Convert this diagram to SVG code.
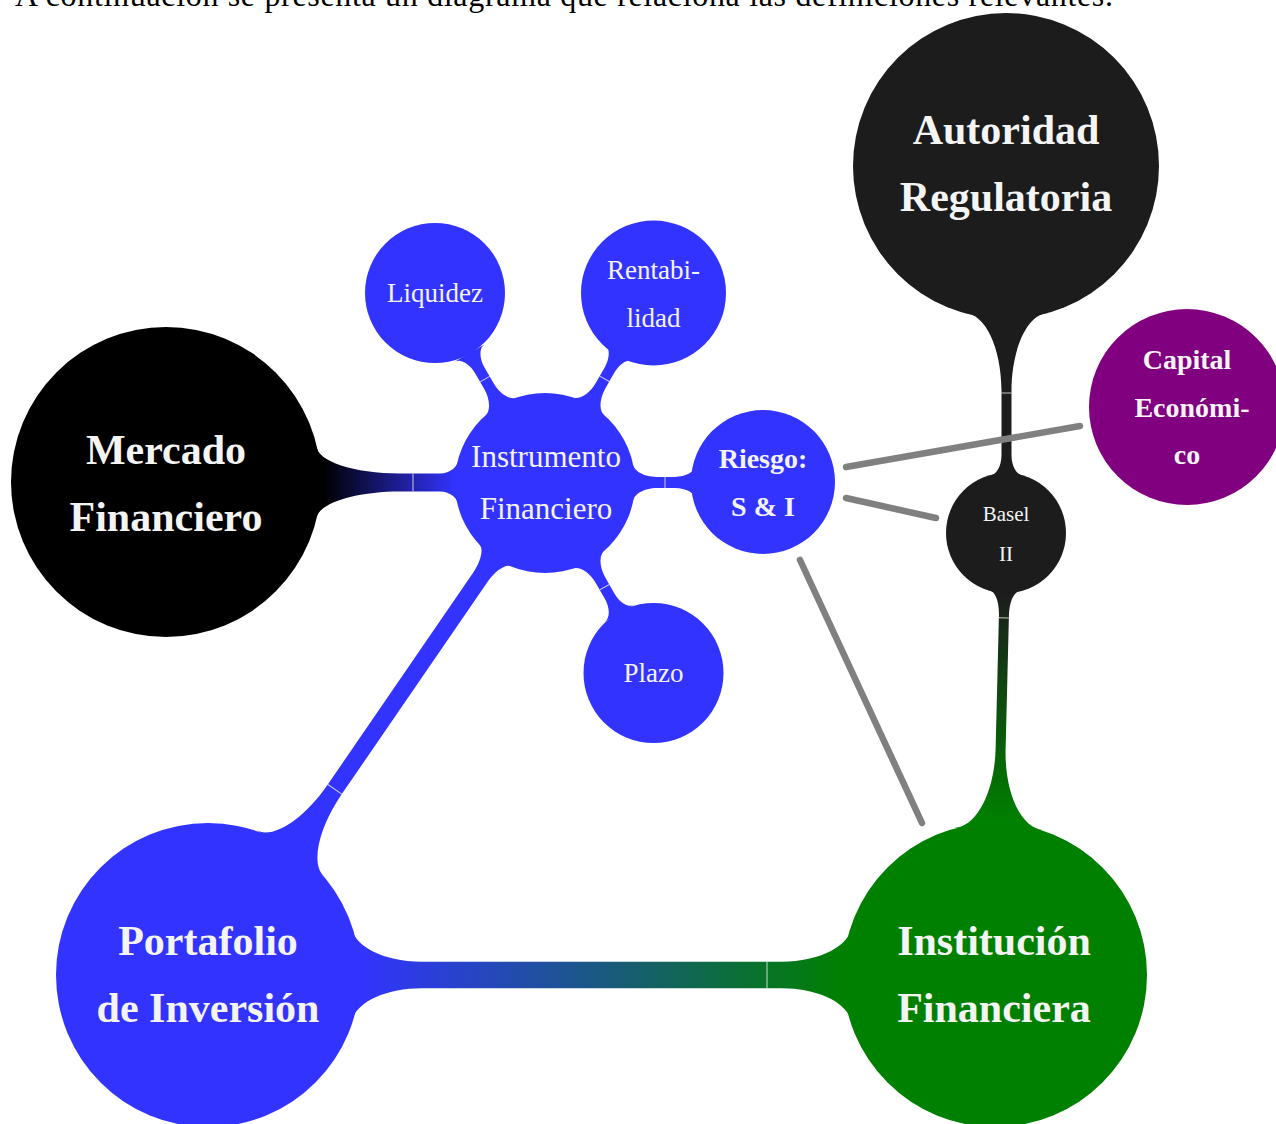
<svg xmlns="http://www.w3.org/2000/svg" width="1276" height="1124" viewBox="0 0 1276 1124">
  <style>
    .lbl { font-family: "Liberation Serif", "DejaVu Serif", serif; fill: #f4f4f4; text-anchor: middle; }
    .big { font-size: 42px; font-weight: bold; }
    .mid { font-size: 31px; }
    .small { font-size: 27px; }
    .smallb { font-size: 28px; font-weight: bold; }
    .tiny { font-size: 21px; }
    .seam { stroke: #ffffff; stroke-width: 1; stroke-opacity: 0.75; fill: none; }
    .link { stroke: #808080; stroke-width: 6.5; stroke-linecap: round; fill: none; }
    .intro { font-family: "Liberation Serif", "DejaVu Serif", serif; font-size: 32px; fill: #000; }
  </style>
  <defs>
    <linearGradient id="gMercado" gradientUnits="userSpaceOnUse" x1="323" y1="0" x2="455" y2="0">
      <stop offset="0" stop-color="#000000"/>
      <stop offset="1" stop-color="#3333ff"/>
    </linearGradient>
    <linearGradient id="gPortafolio" gradientUnits="userSpaceOnUse" x1="360" y1="0" x2="843" y2="0">
      <stop offset="0" stop-color="#3333ff"/>
      <stop offset="1" stop-color="#008000"/>
    </linearGradient>
    <linearGradient id="gBasel" gradientUnits="userSpaceOnUse" x1="60" y1="0" x2="289" y2="0">
      <stop offset="0" stop-color="#1c1c1c"/>
      <stop offset="1" stop-color="#008000"/>
    </linearGradient>
    <!-- short tapered branch from the central concept to a satellite (local frame, child at x=219) -->
    <g id="twig">
      <path d="M87.75,-20 C87.75,-12 98.6,-5.5 112,-5.5 L130,-5.5 C141,-5.5 150.1,-10.65 150.1,-17 L150.1,17 C150.1,10.65 141,5.5 130,5.5 L112,5.5 C98.6,5.5 87.75,12 87.75,20 Z" fill="#3333ff"/>
      <line class="seam" x1="120" y1="-5.5" x2="120" y2="5.5"/>
    </g>
  </defs>

  <rect width="1276" height="1124" fill="#ffffff"/>

  <text class="intro" x="15" y="6" textLength="1098" lengthAdjust="spacing">A continuación se presenta un diagrama que relaciona las definiciones relevantes.</text>

  <!-- tapered concept connections -->
  <g id="connectors">
    <!-- Mercado Financiero to Instrumento Financiero -->
    <path d="M316.6,446 C316.6,461 354,473.5 400,473.5 L440,473.5 C450.2,473.5 458.5,466.6 458.5,458 L458.5,507 C458.5,498.4 450.2,491.5 440,491.5 L400,491.5 C354,491.5 316.6,504 316.6,519 Z" fill="url(#gMercado)"/>
    <line class="seam" x1="413" y1="473.5" x2="413" y2="491.5"/>

    <!-- Portafolio de Inversión to Institución Financiera -->
    <path d="M351.5,925 C351.5,945.3 382.9,961.7 421.5,961.7 L781.5,961.7 C820.1,961.7 851.5,945.3 851.5,925 L851.5,1025 C851.5,1004.7 820.1,988.3 781.5,988.3 L421.5,988.3 C382.9,988.3 351.5,1004.7 351.5,1025 Z" fill="url(#gPortafolio)"/>
    <line class="seam" x1="767" y1="961.7" x2="767" y2="988.3"/>

    <!-- Instrumento Financiero to Portafolio de Inversión -->
    <g transform="translate(545,483) rotate(124.46)">
      <path d="M87.75,-20 C87.75,-13.65 100,-8.5 115,-8.5 L371.5,-8.5 C414.5,-8.5 449.4,-23.5 449.4,-42 L449.4,42 C449.4,23.5 414.5,8.5 371.5,8.5 L115,8.5 C100,8.5 87.75,13.65 87.75,20 Z" fill="#3333ff"/>
      <line class="seam" x1="371.5" y1="-8.5" x2="371.5" y2="8.5"/>
    </g>

    <!-- satellites of Instrumento Financiero -->
    <use href="#twig" transform="translate(545,483) rotate(-120.07)"/>
    <use href="#twig" transform="translate(545,483) rotate(-60.27)"/>
    <use href="#twig" transform="translate(545,483) rotate(60.27)"/>
    <use href="#twig" transform="translate(545,483) rotate(-0.26)"/>

    <!-- Autoridad Regulatoria to Basel II -->
    <path d="M964.5,313.1 C984.9,313.1 1001.5,348 1001.5,391 L1001.5,455 C1001.5,466.3 996.1,475.5 989.5,475.5 L1023.5,475.5 C1016.9,475.5 1011.5,466.3 1011.5,455 L1011.5,391 C1011.5,348 1028.1,313.1 1048.5,313.1 Z" fill="#1c1c1c"/>
    <line class="seam" x1="1001.5" y1="393" x2="1011.5" y2="393"/>

    <!-- Basel II to Institución Financiera -->
    <g transform="translate(1006,533) rotate(91.43)">
      <path d="M58.1,-15 C58.1,-9.48 68.8,-5 82,-5 L216.1,-5 C260.1,-5 295.9,-22.9 295.9,-45 L295.9,45 C295.9,22.9 260.1,5 216.1,5 L82,5 C68.8,5 58.1,9.48 58.1,15 Z" fill="url(#gBasel)"/>
      <line class="seam" x1="85" y1="-5" x2="85" y2="5"/>
    </g>
  </g>

  <!-- plain cross links -->
  <g id="links">
    <line class="link" x1="846" y1="467" x2="1080" y2="426"/>
    <line class="link" x1="846" y1="498" x2="936" y2="518"/>
    <line class="link" x1="800" y1="560" x2="922" y2="823"/>
  </g>

  <g id="mercado">
    <circle cx="166" cy="482" r="155" fill="#000000"/>
    <text class="lbl big"><tspan x="166" y="464">Mercado</tspan><tspan x="166" y="531">Financiero</tspan></text>
  </g>

  <g id="instrumento">
    <circle cx="545" cy="483" r="90" fill="#3333ff"/>
    <text class="lbl mid"><tspan x="546" y="467">Instrumento</tspan><tspan x="546" y="519">Financiero</tspan></text>
  </g>

  <g id="liquidez">
    <circle cx="435" cy="293" r="70" fill="#3333ff"/>
    <text class="lbl small" x="435" y="302">Liquidez</text>
  </g>

  <g id="rentabilidad">
    <circle cx="653.5" cy="293" r="72.5" fill="#3333ff"/>
    <text class="lbl small"><tspan x="653.5" y="279">Rentabi-</tspan><tspan x="653.5" y="327">lidad</tspan></text>
  </g>

  <g id="plazo">
    <circle cx="653.5" cy="673" r="70" fill="#3333ff"/>
    <text class="lbl small" x="653.5" y="682">Plazo</text>
  </g>

  <g id="riesgo">
    <circle cx="763" cy="482" r="72" fill="#3333ff"/>
    <text class="lbl smallb"><tspan x="763" y="468">Riesgo:</tspan><tspan x="763" y="516">S &amp; I</tspan></text>
  </g>

  <g id="autoridad">
    <circle cx="1006" cy="166" r="153" fill="#1c1c1c"/>
    <text class="lbl big"><tspan x="1006" y="144">Autoridad</tspan><tspan x="1006" y="211">Regulatoria</tspan></text>
  </g>

  <g id="basel">
    <circle cx="1006" cy="533" r="60" fill="#1c1c1c"/>
    <text class="lbl tiny"><tspan x="1006" y="521">Basel</tspan><tspan x="1006" y="561">II</tspan></text>
  </g>

  <g id="capital">
    <circle cx="1187" cy="407" r="98" fill="#800080"/>
    <text class="lbl smallb"><tspan x="1187" y="369">Capital</tspan><tspan x="1192" y="417">Económi-</tspan><tspan x="1187" y="464">co</tspan></text>
  </g>

  <g id="portafolio">
    <circle cx="208" cy="975" r="152" fill="#3333ff"/>
    <text class="lbl big"><tspan x="208" y="955">Portafolio</tspan><tspan x="208" y="1022">de Inversión</tspan></text>
  </g>

  <g id="institucion">
    <circle cx="995" cy="975" r="152" fill="#008000"/>
    <text class="lbl big"><tspan x="994" y="955">Institución</tspan><tspan x="994" y="1022">Financiera</tspan></text>
  </g>
</svg>
